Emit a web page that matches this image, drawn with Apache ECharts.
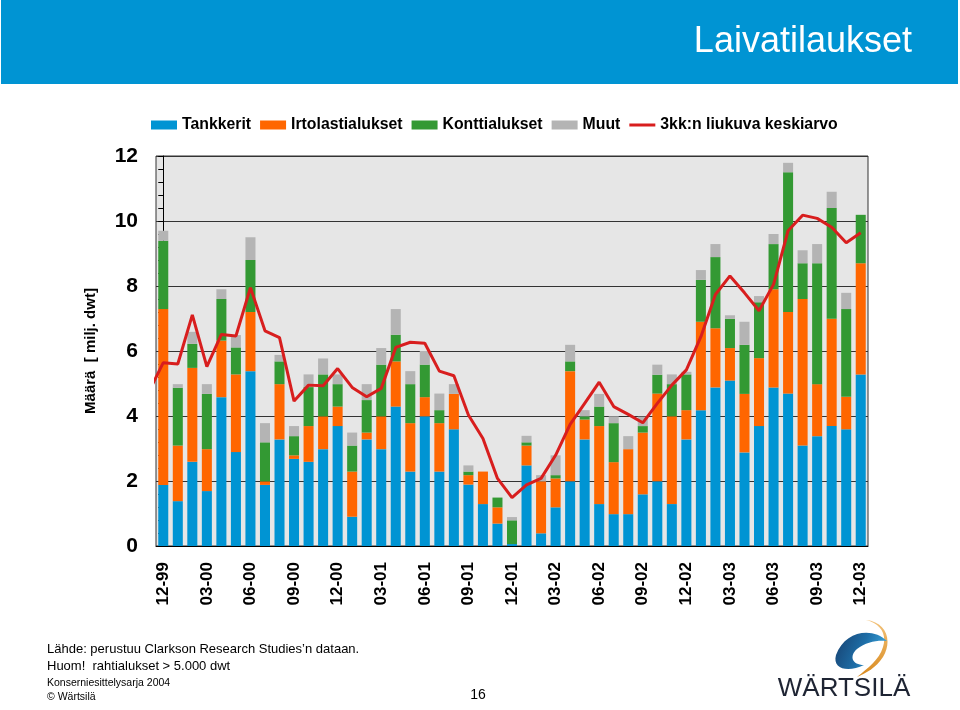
<!DOCTYPE html>
<html>
<head>
<meta charset="utf-8">
<script src="https://cdn.jsdelivr.net/npm/echarts@6.0.0/dist/echarts.min.js"></script>
<style>
html,body{margin:0;padding:0;background:#fff;}
#chart{width:960px;height:710px;}
</style>
</head>
<body>
<div id="chart"></div>
<script>
// Months 12-99 .. 12-03 (49 months)
var months = ['12-99','01-00','02-00','03-00','04-00','05-00','06-00','07-00','08-00','09-00','10-00','11-00',
  '12-00','01-01','02-01','03-01','04-01','05-01','06-01','07-01','08-01','09-01','10-01','11-01',
  '12-01','01-02','02-02','03-02','04-02','05-02','06-02','07-02','08-02','09-02','10-02','11-02',
  '12-02','01-03','02-03','03-03','04-03','05-03','06-03','07-03','08-03','09-03','10-03','11-03','12-03'];

var tankkerit = [1.88,1.38,2.59,1.69,4.58,2.89,5.38,1.88,3.28,2.68,2.59,2.98,
  3.69,0.90,3.28,2.98,4.29,2.29,3.99,2.29,3.59,1.89,1.29,0.69,
  0.06,2.48,0.39,1.19,1.99,3.28,1.29,0.98,0.98,1.59,1.99,1.29,
  3.28,4.18,4.88,5.09,2.88,3.69,4.88,4.69,3.09,3.38,3.69,3.59,5.28];
var irtolasti = [5.41,1.71,2.89,1.29,1.74,2.39,1.82,0.11,1.70,0.11,1.10,1.01,
  0.60,1.39,0.21,1.01,1.39,1.49,0.59,1.49,1.09,0.29,1.00,0.50,
  0.00,0.61,1.60,0.89,3.39,0.61,2.40,1.60,2.00,1.90,2.70,2.70,
  0.90,2.72,1.82,1.00,1.80,2.09,3.02,2.51,4.51,1.60,3.30,1.00,3.42];
var kontti = [2.10,1.78,0.74,1.70,1.28,0.83,1.60,1.20,0.70,0.59,1.20,1.29,
  0.69,0.80,1.00,1.59,0.82,1.20,1.00,0.40,0.00,0.11,0.00,0.30,
  0.73,0.10,0.00,0.10,0.30,0.10,0.60,1.20,0.00,0.20,0.58,0.99,
  1.10,1.29,2.19,0.90,1.51,1.72,1.39,4.30,1.10,3.72,3.41,2.70,1.49];
var muut = [0.31,0.11,0.37,0.30,0.30,0.38,0.70,0.59,0.20,0.31,0.39,0.49,
  0.30,0.40,0.49,0.51,0.79,0.40,0.42,0.51,0.30,0.19,0.00,0.00,
  0.10,0.20,0.19,0.61,0.51,0.19,0.39,0.21,0.40,0.29,0.31,0.30,
  0.08,0.30,0.40,0.11,0.71,0.19,0.31,0.29,0.40,0.59,0.50,0.50,0.00];
// 3-month moving average; previous month (11-99) value enters at the left edge
var avgPrev = 4.74;
var liukuva = [5.64,5.60,7.11,5.52,6.51,6.46,7.95,6.62,6.41,4.46,4.95,4.93,
  5.46,4.88,4.59,4.85,6.11,6.27,6.24,5.38,5.24,4.03,3.31,2.08,
  1.49,1.88,2.08,2.79,3.74,4.39,5.04,4.29,4.05,3.79,4.39,4.95,
  5.42,6.44,7.74,8.31,7.79,7.24,8.05,9.70,10.18,10.08,9.81,9.33,9.64];

var seriesNames = ['Tankkerit','Irtolastialukset','Konttialukset','Muut','3kk:n liukuva keskiarvo'];
var colors = ['#0094D3','#FF6600','#339933','#B4B4B4','#D81E1E'];

var lineData = [[-1, avgPrev]].concat(liukuva.map(function(v,i){return [i, v];}));

var logoSvg = '<svg xmlns="http://www.w3.org/2000/svg" width="60" height="62" viewBox="830 616 60 62">' +
  '<defs><linearGradient id="g" x1="0" y1="0" x2="1" y2="0.3"><stop offset="0" stop-color="#173F6E"/><stop offset="0.6" stop-color="#1E6FA8"/><stop offset="1" stop-color="#3AA3DA"/></linearGradient>' +
  '<linearGradient id="o" x1="0" y1="0" x2="0" y2="1"><stop offset="0" stop-color="#F2C27A"/><stop offset="1" stop-color="#D98A1E"/></linearGradient></defs>' +
  '<path d="M866,620 C886,622 893,640 883,657 C876,668 866,673 857,677 C868,668 879,660 883,647 C887,634 881,624 866,620 Z" fill="url(#o)"/>' +
  '<path d="M887,641 C873,627 845,630 836,655 C832,669 848,673 864,665 C852,665 849,656 857,649 C866,642 877,640 887,641 Z" fill="url(#g)"/>' +
  '</svg>';
var logoUrl = 'data:image/svg+xml;charset=utf-8,' + encodeURIComponent(logoSvg);

var chart = echarts.init(document.getElementById('chart'), null, {renderer:'canvas'});
var font = 'Arial, "Liberation Sans", sans-serif';

function barSeries(name, data, color){
  return {name:name, type:'bar', stack:'total', data:data, barCategoryGap:'31%',
    itemStyle:{color:color}, emphasis:{disabled:true}};
}

chart.setOption({
  animation:false,
  backgroundColor:'#ffffff',
  textStyle:{fontFamily:font},
  legend:{
    left:151, top:117, padding:0, itemWidth:26, itemHeight:9, itemGap:9,
    textStyle:{fontSize:15.8, fontWeight:'bold', color:'#000', fontFamily:font},
    data:[
      {name:seriesNames[0], icon:'rect'},
      {name:seriesNames[1], icon:'rect'},
      {name:seriesNames[2], icon:'rect'},
      {name:seriesNames[3], icon:'rect'},
      {name:seriesNames[4], icon:'path://M0,0H26V3H0Z', itemStyle:{color:colors[4]}}
    ]
  },
  grid:{left:156, right:92, top:156, bottom:164, show:true, backgroundColor:'#E6E6E6', borderColor:'#333', borderWidth:1},
  xAxis:[{
    type:'category', data:months,
    axisLine:{lineStyle:{color:'#000', width:1}},
    axisTick:{show:false},
    axisLabel:{interval:2, rotate:90, margin:16, fontSize:17, fontWeight:'bold', color:'#000', fontFamily:font},
    splitLine:{show:false}
  },{
    type:'value', min:-0.5, max:48.5, show:false
  }],
  yAxis:{
    type:'value', min:0, max:12, interval:2,
    name:'Määrä  [ milj. dwt]', nameLocation:'middle', nameGap:58,
    nameTextStyle:{fontSize:15, fontWeight:'bold', color:'#000', fontFamily:font},
    axisLine:{show:true, lineStyle:{color:'#000', width:1}},
    axisTick:{show:true, length:5, lineStyle:{color:'#000'}},
    minorTick:{show:true, splitNumber:5, length:5, lineStyle:{color:'#000'}},
    axisLabel:{margin:18, fontSize:21, fontWeight:'bold', color:'#000', fontFamily:font},
    splitLine:{show:true, lineStyle:{color:'#333', width:1}}
  },
  series:[
    barSeries(seriesNames[0], tankkerit, colors[0]),
    barSeries(seriesNames[1], irtolasti, colors[1]),
    barSeries(seriesNames[2], kontti, colors[2]),
    barSeries(seriesNames[3], muut, colors[3]),
    {name:seriesNames[4], type:'line', xAxisIndex:1, data:lineData, symbol:'none', clip:true,
     lineStyle:{color:colors[4], width:3}, itemStyle:{color:colors[4]}, z:5, emphasis:{disabled:true}}
  ],
  graphic:[
    {type:'rect', shape:{x:1, y:0, width:957, height:84}, style:{fill:'#0094D3'}, z:0},
    {type:'text', x:912, y:42, style:{text:'Laivatilaukset', fill:'#fff', font:'36px '+font, textAlign:'right', textVerticalAlign:'middle'}},
    {type:'text', x:47, y:649, style:{text:'Lähde: perustuu Clarkson Research Studies\u2019n dataan.', fill:'#000', font:'13px '+font, textVerticalAlign:'middle'}},
    {type:'text', x:47, y:666, style:{text:'Huom!  rahtialukset > 5.000 dwt', fill:'#000', font:'13px '+font, textVerticalAlign:'middle'}},
    {type:'text', x:47, y:683, style:{text:'Konserniesittelysarja 2004', fill:'#000', font:'10.5px '+font, textVerticalAlign:'middle'}},
    {type:'text', x:47, y:697, style:{text:'© Wärtsilä', fill:'#000', font:'10.5px '+font, textVerticalAlign:'middle'}},
    {type:'text', x:478, y:695, style:{text:'16', fill:'#000', font:'14px '+font, textAlign:'center', textVerticalAlign:'middle'}},
    {type:'image', x:830, y:616, style:{image:logoUrl, width:60, height:62}},
    {type:'text', x:844, y:689, style:{text:'WÄRTSILÄ', fill:'#1E2433', font:'26px '+font, textAlign:'center', textVerticalAlign:'middle'}}
  ]
});
</script>
</body>
</html>
